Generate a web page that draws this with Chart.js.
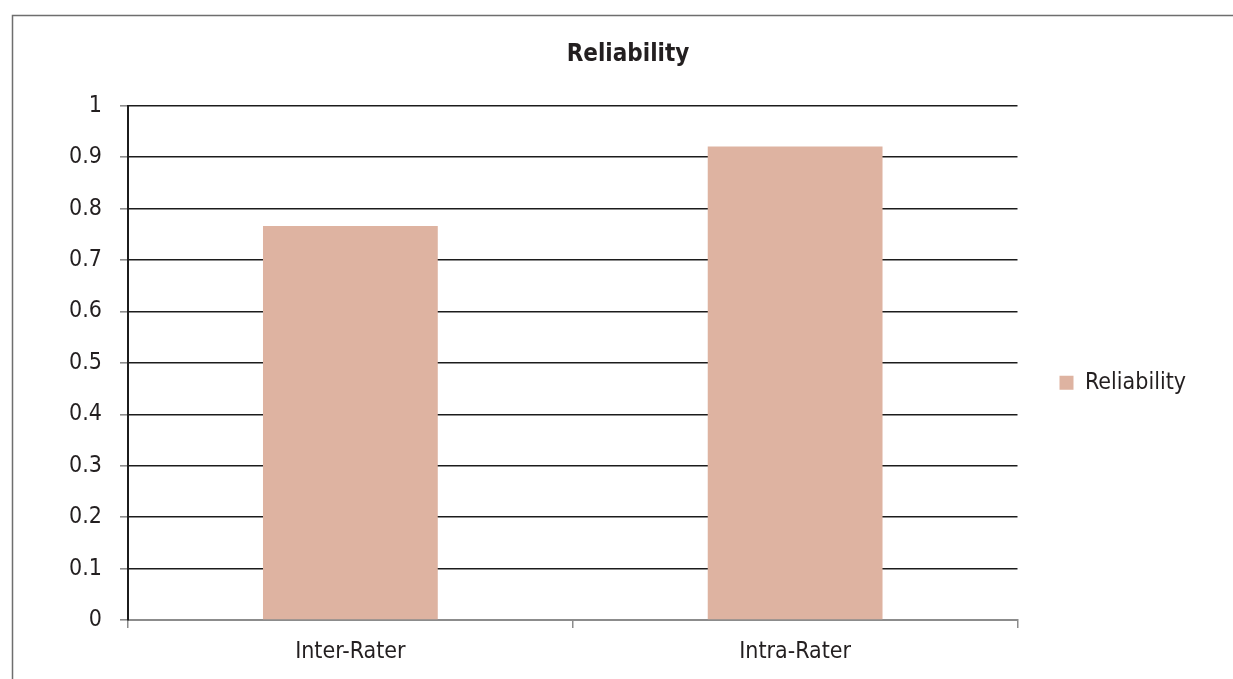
<!DOCTYPE html>
<html>
<head>
<meta charset="utf-8">
<script src="https://cdn.jsdelivr.net/npm/chart.js@4/dist/chart.umd.min.js"></script>
<style>
  html, body { margin: 0; padding: 0; background: #fff; }
  #c { display: block; }
</style>
</head>
<body>
<canvas id="c" width="1233" height="679"></canvas>
<script>
// Reliability scores by rating type
const categories = ['Inter-Rater', 'Intra-Rater'];
const reliability = [0.766, 0.921];
const seriesName = 'Reliability';
const yTicks = [0, 0.1, 0.2, 0.3, 0.4, 0.5, 0.6, 0.7, 0.8, 0.9, 1];

const FONT = '"Liberation Sans Narrow", "Arial Narrow", "DejaVu Sans Condensed", sans-serif';
const TEXT = '#231f20';

// thin frame around the chart
const framePlugin = {
  id: 'frame',
  beforeDraw(chart) {
    const c = chart.ctx;
    c.save();
    c.fillStyle = '#fff';
    c.fillRect(0, 0, chart.width, chart.height);
    c.strokeStyle = '#6e6e6e';
    c.lineWidth = 1.5;
    c.beginPath();
    c.moveTo(12.5, chart.height);
    c.lineTo(12.5, 15.5);
    c.lineTo(chart.width, 15.5);
    c.stroke();
    c.restore();
  }
};

new Chart(document.getElementById('c'), {
  type: 'bar',
  data: {
    labels: categories,
    datasets: [{
      label: seriesName,
      data: reliability,
      backgroundColor: '#deb3a1',
      borderWidth: 0,
      barPercentage: 1,
      categoryPercentage: 0.393
    }]
  },
  options: {
    responsive: false,
    animation: false,
    layout: { padding: { left: 60, right: 37, top: 0, bottom: 0 } },
    plugins: {
      tooltip: { enabled: false },
      title: {
        display: true,
        text: 'Reliability',
        color: TEXT,
        font: { family: FONT, size: 24, weight: 'bold' },
        padding: { top: 40, bottom: 37 }
      },
      legend: {
        position: 'right',
        title: { display: true, text: '', padding: { top: 0, bottom: 72 } },
        labels: {
          color: TEXT,
          font: { family: FONT, size: 23 },
          boxWidth: 14,
          boxHeight: 14,
          padding: 42
        }
      }
    },
    scales: {
      x: {
        grid: {
          offset: true,
          drawOnChartArea: false,
          color: '#8c8c8c',
          tickLength: 8,
          lineWidth: 1.5
        },
        border: { color: '#8c8c8c', width: 2 },
        ticks: {
          color: TEXT,
          font: { family: FONT, size: 23 },
          padding: 10
        },
        afterFit(s) { s.height = 59; }
      },
      y: {
        min: 0,
        max: 1,
        afterBuildTicks(s) { s.ticks = yTicks.map(v => ({ value: v })); },
        grid: {
          color: (ctx) => (ctx.tick && ctx.tick.value === 0 ? '#8c8c8c' : '#1c1c1c'),
          tickColor: '#8c8c8c',
          tickLength: 8,
          lineWidth: 1.6
        },
        border: { color: '#1c1c1c', width: 2 },
        ticks: {
          color: TEXT,
          font: { family: FONT, size: 23 },
          padding: 18,
          callback: (v) => String(v)
        },
        afterFit(s) { s.width = 68; }
      }
    }
  },
  plugins: [framePlugin]
});
</script>
</body>
</html>
